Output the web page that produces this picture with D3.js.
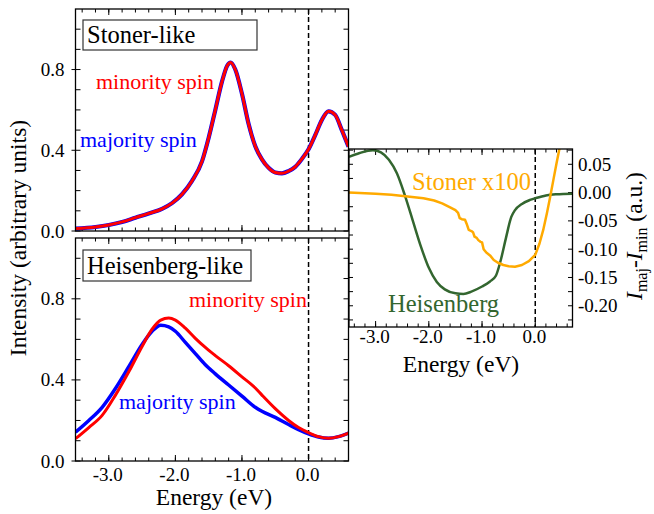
<!DOCTYPE html>
<html>
<head>
<meta charset="utf-8">
<script src="https://cdn.jsdelivr.net/npm/d3@7"></script>
<style>
  body { margin: 0; background: #fff; }
  text { font-family: 'Liberation Serif', 'Times New Roman', Times, 'Nimbus Roman', 'Noto Serif', 'DejaVu Serif', serif; }
</style>
</head>
<body>
<div id="wrapper"></div>
<script>
// top panel: Stoner-like spectra (majority and minority lie on top of each other)
const stonerEnergy = [-3.5, -3.2, -3.0, -2.8, -2.6, -2.4, -2.2, -2.05, -1.9, -1.75, -1.6, -1.5, -1.4, -1.3, -1.22, -1.17, -1.1, -1.0, -0.9, -0.8, -0.7, -0.6, -0.5, -0.4, -0.3, -0.2, -0.1, 0.0, 0.1, 0.2, 0.3, 0.4, 0.5, 0.6];
const stonerMinority = [0.012, 0.02, 0.03, 0.045, 0.066, 0.087, 0.11, 0.138, 0.182, 0.248, 0.345, 0.462, 0.6, 0.74, 0.82, 0.835, 0.8, 0.68, 0.53, 0.42, 0.355, 0.313, 0.29, 0.286, 0.297, 0.318, 0.357, 0.405, 0.475, 0.55, 0.593, 0.575, 0.5, 0.418];
const stonerMajority = stonerMinority.slice();

// bottom panel: Heisenberg-like spectra
const heisEnergy = [-3.5, -3.3, -3.1, -2.9, -2.7, -2.5, -2.35, -2.22, -2.1, -2.0, -1.85, -1.7, -1.55, -1.4, -1.2, -1.0, -0.8, -0.7, -0.5, -0.3, -0.15, 0.0, 0.15, 0.3, 0.45, 0.6];
const heisMajority = [0.142, 0.2, 0.265, 0.358, 0.465, 0.575, 0.64, 0.67, 0.662, 0.64, 0.585, 0.53, 0.475, 0.43, 0.375, 0.32, 0.265, 0.245, 0.215, 0.18, 0.155, 0.134, 0.118, 0.112, 0.12, 0.138];
const heisMinority = [0.11, 0.165, 0.225, 0.325, 0.44, 0.565, 0.65, 0.695, 0.705, 0.695, 0.655, 0.605, 0.56, 0.52, 0.47, 0.415, 0.36, 0.325, 0.258, 0.2, 0.165, 0.14, 0.12, 0.112, 0.12, 0.138];

// inset: I_maj - I_min
const diffHeisEnergy = [-3.5, -3.3, -3.05, -2.9, -2.75, -2.6, -2.45, -2.3, -2.15, -2.0, -1.85, -1.7, -1.5, -1.35, -1.2, -1.0, -0.85, -0.74, -0.65, -0.55, -0.45, -0.38, -0.25, -0.1, 0.0, 0.2, 0.4, 0.7];
const diffHeis = [0.063, 0.07, 0.075, 0.071, 0.058, 0.034, -0.005, -0.05, -0.095, -0.133, -0.158, -0.171, -0.178, -0.179, -0.175, -0.166, -0.157, -0.147, -0.12, -0.08, -0.043, -0.031, -0.02, -0.013, -0.01, -0.005, -0.003, -0.002];
const diffStonerEnergy = [-3.5, -3.0, -2.7, -2.4, -2.1, -1.9, -1.75, -1.6, -1.5, -1.45, -1.42, -1.38, -1.32, -1.29, -1.25, -1.2, -1.17, -1.14, -1.1, -1.07, -1.03, -1.0, -0.97, -0.92, -0.85, -0.78, -0.7, -0.6, -0.5, -0.38, -0.25, -0.12, 0.0, 0.08, 0.15, 0.22, 0.28, 0.34, 0.4, 0.46];
const diffStoner = [0.0, -0.002, -0.004, -0.007, -0.01, -0.014, -0.019, -0.026, -0.031, -0.036, -0.045, -0.047, -0.048, -0.055, -0.066, -0.068, -0.07, -0.078, -0.08, -0.084, -0.087, -0.088, -0.1, -0.106, -0.111, -0.119, -0.124, -0.128, -0.13, -0.131, -0.128, -0.121, -0.11, -0.09, -0.066, -0.036, -0.008, 0.022, 0.052, 0.08];

const mainTicks = [-3, -2, -1, 0];
const mainTickLabels = ['-3.0', '-2.0', '-1.0', '0.0'];
const intensityTicks = [0, 0.4, 0.8];
const intensityTickLabels = ['0.0', '0.4', '0.8'];
const diffTicks = [0.05, 0, -0.05, -0.1, -0.15, -0.2];
const diffTickLabels = ['0.05', '0.00', '-0.05', '-0.10', '-0.15', '-0.20'];

const RED = '#ff0000', BLUE = '#0000ff', GREEN = '#33662f', ORANGE = '#ffaa00';

const width = 654, height = 514;
const svg = d3.select('#wrapper').append('svg')
    .attr('width', width)
    .attr('height', height);

const zip = (xs, ys) => xs.map((x, i) => [x, ys[i]]);

// shared horizontal scale for the two stacked panels
const x = d3.scaleLinear().domain([-3.5, 0.6]).range([75.5, 348.5]);

function panel(top, bottom, title, box, curves, labels) {
    const y = d3.scaleLinear().domain([0, 1.1]).range([bottom, top]);
    const g = svg.append('g');
    const clipId = 'clip' + Math.round(top);
    g.append('clipPath').attr('id', clipId)
        .append('rect')
        .attr('x', x.range()[0]).attr('y', top)
        .attr('width', x.range()[1] - x.range()[0]).attr('height', bottom - top);

    // ticks, all four sides, pointing inwards
    const minorX = d3.range(-3.4, 0.61, 0.2);
    minorX.forEach(v => {
        g.append('line').attr('x1', x(v)).attr('x2', x(v)).attr('y1', bottom).attr('y2', bottom - 3.5).attr('stroke', '#000');
        g.append('line').attr('x1', x(v)).attr('x2', x(v)).attr('y1', top).attr('y2', top + 3.5).attr('stroke', '#000');
    });
    mainTicks.forEach(v => {
        g.append('line').attr('x1', x(v)).attr('x2', x(v)).attr('y1', bottom).attr('y2', bottom - 6).attr('stroke', '#000');
        g.append('line').attr('x1', x(v)).attr('x2', x(v)).attr('y1', top).attr('y2', top + 6).attr('stroke', '#000');
    });
    d3.range(0, 1.05, 0.1).forEach((v, i) => {
        const major = i % 4 === 0;
        g.append('line').attr('x1', x.range()[0] - (major ? 4 : 0)).attr('x2', x.range()[0] + 5)
            .attr('y1', y(v)).attr('y2', y(v)).attr('stroke', '#000');
        g.append('line').attr('x1', x.range()[1]).attr('x2', x.range()[1] - 5)
            .attr('y1', y(v)).attr('y2', y(v)).attr('stroke', '#000');
    });
    intensityTicks.forEach((v, i) => {
        g.append('text')
            .attr('x', x.range()[0] - 11).attr('y', y(v))
            .attr('text-anchor', 'end')
            .attr('dominant-baseline', 'central')
            .attr('font-size', 19)
            .text(intensityTickLabels[i]);
    });

    // Fermi level
    g.append('line')
        .attr('x1', x(0)).attr('x2', x(0)).attr('y1', top).attr('y2', bottom)
        .attr('stroke', '#000').attr('stroke-width', 1.5).attr('stroke-dasharray', '5,3');

    const line = d3.line()
        .x(d => x(d[0])).y(d => y(d[1]))
        .curve(d3.curveMonotoneX);
    const cg = g.append('g').attr('clip-path', `url(#${clipId})`);
    curves.forEach(c => {
        cg.append('path')
            .datum(c.data)
            .attr('d', line)
            .attr('fill', 'none')
            .attr('stroke', c.color)
            .attr('stroke-width', c.w)
            .attr('stroke-linejoin', 'round');
    });

    g.append('rect')
        .attr('x', x.range()[0]).attr('y', top)
        .attr('width', x.range()[1] - x.range()[0]).attr('height', bottom - top)
        .attr('fill', 'none').attr('stroke', '#000').attr('stroke-width', 1.3);

    g.append('rect')
        .attr('x', box[0]).attr('y', box[1]).attr('width', box[2]).attr('height', box[3])
        .attr('fill', '#fff').attr('stroke', '#333').attr('stroke-width', 1.2);
    g.append('text')
        .attr('x', box[0] + 4).attr('y', box[1] + box[3] - 7)
        .attr('font-size', 24.5)
        .text(title);

    labels.forEach(l => {
        g.append('text')
            .attr('x', l.x).attr('y', l.y)
            .attr('font-size', 22)
            .attr('fill', l.color)
            .text(l.text);
    });
    return y;
}

panel(9, 231, 'Stoner-like', [83, 20, 174, 30], [
    { data: zip(stonerEnergy, stonerMajority), color: BLUE, w: 4.2 },
    { data: zip(stonerEnergy, stonerMinority), color: RED, w: 3 },
], [
    { text: 'minority spin', color: RED, x: 96, y: 89 },
    { text: 'majority spin', color: BLUE, x: 80, y: 147 },
]);

panel(238, 461, 'Heisenberg-like', [83, 250, 168, 31], [
    { data: zip(heisEnergy, heisMajority), color: BLUE, w: 3.5 },
    { data: zip(heisEnergy, heisMinority), color: RED, w: 3 },
], [
    { text: 'minority spin', color: RED, x: 189, y: 307 },
    { text: 'majority spin', color: BLUE, x: 119, y: 409 },
]);

// main x tick labels
mainTicks.forEach((v, i) => {
    svg.append('text')
        .attr('x', x(v) - 1).attr('y', 481)
        .attr('text-anchor', 'middle')
        .attr('font-size', 19)
        .text(mainTickLabels[i]);
});
svg.append('text')
    .attr('x', 214).attr('y', 505)
    .attr('text-anchor', 'middle')
    .attr('font-size', 23.5)
    .text('Energy (eV)');
svg.append('text')
    .attr('transform', 'translate(18,238) rotate(-90)')
    .attr('text-anchor', 'middle')
    .attr('dominant-baseline', 'central')
    .attr('font-size', 23.5)
    .text('Intensity (arbitrary units)');

// inset
const ix = d3.scaleLinear().domain([-3.5, 0.7]).range([349, 572.5]);
const iy = d3.scaleLinear().domain([-0.2375, 0.077]).range([327, 149]);
const inset = svg.append('g');
inset.append('rect')
    .attr('x', 349).attr('y', 149).attr('width', 223.5).attr('height', 178)
    .attr('fill', '#fff');
inset.append('clipPath').attr('id', 'clipInset')
    .append('rect').attr('x', 349).attr('y', 149).attr('width', 223.5).attr('height', 178);

d3.range(-3.4, 0.71, 0.2).forEach(v => {
    inset.append('line').attr('x1', ix(v)).attr('x2', ix(v)).attr('y1', 327).attr('y2', 323.5).attr('stroke', '#000');
    inset.append('line').attr('x1', ix(v)).attr('x2', ix(v)).attr('y1', 149).attr('y2', 152.5).attr('stroke', '#000');
});
mainTicks.forEach((v, i) => {
    inset.append('line').attr('x1', ix(v)).attr('x2', ix(v)).attr('y1', 327).attr('y2', 321).attr('stroke', '#000');
    inset.append('line').attr('x1', ix(v)).attr('x2', ix(v)).attr('y1', 149).attr('y2', 155).attr('stroke', '#000');
    inset.append('text')
        .attr('x', ix(v) - 1).attr('y', 343)
        .attr('text-anchor', 'middle')
        .attr('font-size', 19)
        .text(mainTickLabels[i]);
});
d3.range(-0.225, 0.076, 0.025).forEach(v => {
    inset.append('line').attr('x1', 349).attr('x2', 353).attr('y1', iy(v)).attr('y2', iy(v)).attr('stroke', '#000');
    inset.append('line').attr('x1', 572.5).attr('x2', 568).attr('y1', iy(v)).attr('y2', iy(v)).attr('stroke', '#000');
});
diffTicks.forEach((v, i) => {
    inset.append('text')
        .attr('x', 578).attr('y', iy(v))
        .attr('dominant-baseline', 'central')
        .attr('font-size', 19)
        .text(diffTickLabels[i]);
});

inset.append('line')
    .attr('x1', ix(0)).attr('x2', ix(0)).attr('y1', 149).attr('y2', 327)
    .attr('stroke', '#000').attr('stroke-width', 1.5).attr('stroke-dasharray', '5,3');

const iline = d3.line().x(d => ix(d[0])).y(d => iy(d[1]));
const ic = inset.append('g').attr('clip-path', 'url(#clipInset)');
ic.append('path')
    .datum(zip(diffHeisEnergy, diffHeis))
    .attr('d', iline.curve(d3.curveMonotoneX))
    .attr('fill', 'none').attr('stroke', GREEN).attr('stroke-width', 2.5);
ic.append('path')
    .datum(zip(diffStonerEnergy, diffStoner))
    .attr('d', iline.curve(d3.curveLinear))
    .attr('fill', 'none').attr('stroke', ORANGE).attr('stroke-width', 2.5)
    .attr('stroke-linejoin', 'round');

inset.append('rect')
    .attr('x', 349).attr('y', 149).attr('width', 223.5).attr('height', 178)
    .attr('fill', 'none').attr('stroke', '#000').attr('stroke-width', 1.3);

inset.append('text')
    .attr('x', 412).attr('y', 190)
    .attr('font-size', 24.5)
    .attr('fill', ORANGE)
    .text('Stoner x100');
inset.append('text')
    .attr('x', 388).attr('y', 312)
    .attr('font-size', 24.5)
    .attr('fill', GREEN)
    .text('Heisenberg');
inset.append('text')
    .attr('x', 461).attr('y', 372)
    .attr('text-anchor', 'middle')
    .attr('font-size', 23.5)
    .text('Energy (eV)');

const ylab = svg.append('text')
    .attr('transform', 'translate(642,236) rotate(-90)')
    .attr('text-anchor', 'middle')
    .attr('font-size', 23.5);
ylab.append('tspan').attr('font-style', 'italic').text('I');
ylab.append('tspan').attr('font-size', 16).attr('dy', 5).text('maj');
ylab.append('tspan').attr('dy', -5).text('-');
ylab.append('tspan').attr('font-style', 'italic').text('I');
ylab.append('tspan').attr('font-size', 16).attr('dy', 5).text('min');
ylab.append('tspan').attr('dy', -5).text(' (a.u.)');
</script>
</body>
</html>
